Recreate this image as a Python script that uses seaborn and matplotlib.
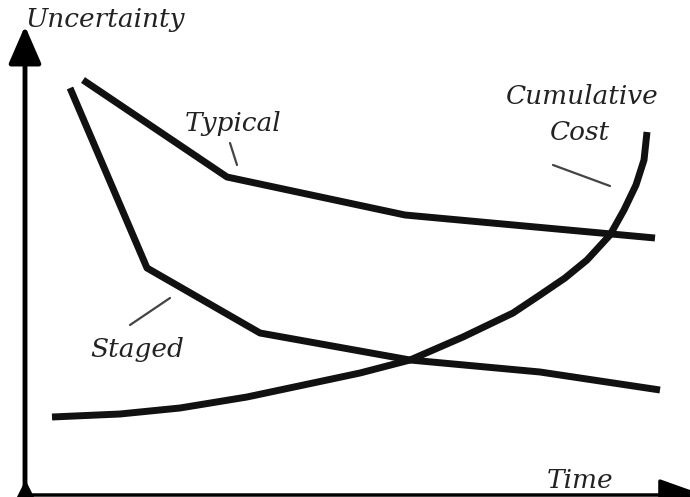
import numpy as np
import pandas as pd
import seaborn as sns
from matplotlib import pyplot as plt

# values: t = time, u = uncertainty / cost
typical_t = [63, 207, 385, 635]
typical_u = [413, 316, 278, 255]

staged_t = [50, 127, 240, 390, 520, 640]
staged_u = [405, 225, 160, 133, 121, 103]

cost_t = [32, 100, 160, 227, 293, 340, 390, 443, 493, 520, 545, 567, 590, 604, 616, 624, 627]
cost_u = [76, 79, 85, 96, 110, 120, 133, 156, 180, 198, 215, 233, 258, 283, 308, 333, 361]

# labels and their pointer strokes
labels = ['Uncertainty', 'Typical', 'Staged', 'Cumulative', 'Cost', 'Time']
label_t = [85, 213, 117, 562, 560, 560]
label_u = [473, 369, 143, 396, 360, 13]

pointer_t = [(210, 217), (110, 150), (533, 590)]
pointer_u = [(350, 328), (168, 195), (328, 307)]

sns.set_style('white')

fig = plt.figure(figsize=(6.9, 4.97), dpi=100)
ax = fig.add_axes([0, 0, 1, 1])

curves = pd.concat([
    pd.DataFrame({'t': typical_t, 'u': typical_u, 'curve': 'Typical'}),
    pd.DataFrame({'t': staged_t, 'u': staged_u, 'curve': 'Staged'}),
    pd.DataFrame({'t': cost_t, 'u': cost_u, 'curve': 'Cumulative Cost'}),
])
sns.lineplot(data=curves, x='t', y='u', units='curve', estimator=None, sort=False,
             color='#111111', linewidth=5, solid_capstyle='butt', solid_joinstyle='round',
             ax=ax, legend=False)

# axes drawn as arrows
ax.annotate('', xy=(5, 467), xytext=(5, -4), annotation_clip=False,
            arrowprops=dict(arrowstyle='-|>,head_length=1.15,head_width=0.5',
                            lw=3.5, color='black', mutation_scale=20, shrinkA=0, shrinkB=0))
ax.annotate('', xy=(684, -2), xytext=(5, -2), annotation_clip=False,
            arrowprops=dict(arrowstyle='-|>,head_length=1.4,head_width=0.5',
                            lw=2.5, color='black', mutation_scale=20, shrinkA=0, shrinkB=0))
ax.plot([5], [2], marker='^', markersize=15, color='black', clip_on=False)

for pt, pu in zip(pointer_t, pointer_u):
    ax.plot(pt, pu, color='#444444', lw=1.6)

for txt, t, u in zip(labels, label_t, label_u):
    ax.text(t, u, txt, ha='center', va='center', fontsize=19, style='italic',
            family=['DejaVu Serif'], color='#222222')

ax.set_xlim(-20, 670)
ax.set_ylim(-4, 493)
ax.axis('off')

fig.savefig('out.png', dpi=100)
